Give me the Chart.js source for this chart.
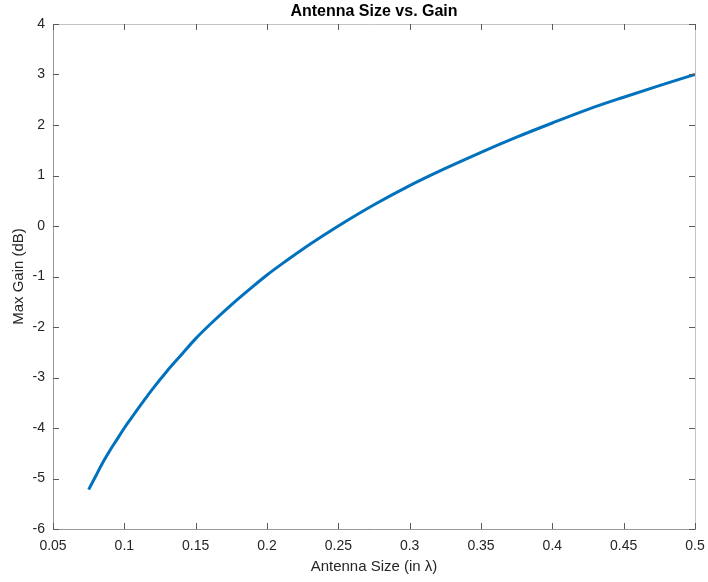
<!DOCTYPE html>
<html>
<head>
<meta charset="utf-8">
<script src="https://cdn.jsdelivr.net/npm/chart.js@4"></script>
<style>
  html, body { margin: 0; padding: 0; background: #fff; }
  #wrap { width: 708px; height: 582px; }
</style>
</head>
<body>
<div id="wrap"><canvas id="chart" width="708" height="582"></canvas></div>
<script>
// antenna size (in wavelengths) and max gain
let sizes = [0.075, 0.08, 0.085, 0.09, 0.095, 0.1, 0.105, 0.11, 0.115, 0.12, 0.13, 0.14, 0.15, 0.16,
             0.175, 0.19, 0.2, 0.21, 0.225, 0.24, 0.25, 0.275, 0.3, 0.325, 0.35, 0.375, 0.4, 0.425,
             0.45, 0.475, 0.5];
let gains = [-5.22, -4.95, -4.68, -4.44, -4.22, -4.0, -3.8, -3.6, -3.41, -3.22, -2.87, -2.55, -2.23, -1.95,
             -1.56, -1.2, -0.97, -0.76, -0.46, -0.18, 0.0, 0.42, 0.8, 1.14, 1.46, 1.76, 2.04, 2.31,
             2.55, 2.78, 3.0];

let xTicks = [0.05, 0.1, 0.15, 0.2, 0.25, 0.3, 0.35, 0.4, 0.45, 0.5];
let xTickLabels = ["0.05", "0.1", "0.15", "0.2", "0.25", "0.3", "0.35", "0.4", "0.45", "0.5"];
let yTicks = [-6, -5, -4, -3, -2, -1, 0, 1, 2, 3, 4];

let fontFam = "'Liberation Sans', Arial, Helvetica, sans-serif";

// matlab style box, inward ticks and title centred on the axes
let boxPlugin = {
  id: "box",
  afterDraw(chart) {
    let ctx = chart.ctx;
    let a = chart.chartArea;
    let xs = chart.scales.x, ys = chart.scales.y;
    ctx.save();
    ctx.lineWidth = 1;
    ctx.strokeStyle = "#c4c4c4";
    ctx.beginPath();
    ctx.moveTo(a.left, a.top + 0.5);
    ctx.lineTo(a.right + 0.5, a.top + 0.5);
    ctx.lineTo(a.right + 0.5, a.bottom);
    ctx.stroke();

    ctx.strokeStyle = "#5a5a5a";
    ctx.beginPath();
    xTicks.forEach(v => {
      let px = Math.round(xs.getPixelForValue(v)) + 0.5;
      ctx.moveTo(px, a.bottom); ctx.lineTo(px, a.bottom - 6);
      ctx.moveTo(px, a.top); ctx.lineTo(px, a.top + 6);
    });
    yTicks.forEach(v => {
      let py = Math.round(ys.getPixelForValue(v)) + 0.5;
      ctx.moveTo(a.left, py); ctx.lineTo(a.left + 6, py);
      ctx.moveTo(a.right, py); ctx.lineTo(a.right - 6, py);
    });
    ctx.stroke();

    ctx.fillStyle = "#000";
    ctx.font = "bold 16px " + fontFam;
    ctx.textAlign = "center";
    ctx.textBaseline = "middle";
    ctx.fillText("Antenna Size vs. Gain", (a.left + a.right) / 2, 12);
    ctx.restore();
  }
};

let ctx = document.getElementById("chart").getContext("2d");

let chart = new Chart(ctx, {
  type: "line",
  data: {
    datasets: [
      {
        label: "Max Gain",
        data: sizes.map((s, i) => ({ x: s, y: gains[i] })),
        borderColor: "#0072BD",
        borderWidth: 3,
        pointRadius: 0,
        fill: false,
        cubicInterpolationMode: "monotone"
      }
    ]
  },
  options: {
    responsive: false,
    animation: false,
    layout: { padding: { left: 0, right: 13, top: 24, bottom: 0 } },
    plugins: {
      legend: { display: false },
      tooltip: { enabled: false },
      title: { display: false }
    },
    scales: {
      x: {
        type: "linear",
        min: 0.05,
        max: 0.5,
        afterBuildTicks: s => { s.ticks = xTicks.map(v => ({ value: v })); },
        afterFit: s => { s.height = 53; s.paddingLeft = 0; s.paddingRight = 0; },
        border: { display: true, color: "#999", width: 1 },
        grid: { display: false, drawTicks: false },
        ticks: {
          color: "#262626",
          padding: 9,
          maxRotation: 0,
          font: { family: fontFam, size: 14 },
          callback: (v, i) => xTickLabels[i]
        },
        title: {
          display: true,
          text: "Antenna Size (in λ)",
          color: "#262626",
          font: { family: fontFam, size: 15 },
          padding: { top: 4, bottom: 6 }
        }
      },
      y: {
        type: "linear",
        min: -6,
        max: 4,
        afterBuildTicks: s => { s.ticks = yTicks.map(v => ({ value: v })); },
        afterFit: s => { s.width = 53; s.paddingTop = 0; s.paddingBottom = 0; },
        border: { display: true, color: "#999", width: 1 },
        grid: { display: false, drawTicks: false },
        ticks: {
          color: "#262626",
          padding: 8,
          font: { family: fontFam, size: 14 },
          callback: v => String(v)
        },
        title: {
          display: true,
          text: "Max Gain (dB)",
          color: "#262626",
          font: { family: fontFam, size: 15 },
          padding: { top: 10, bottom: 0 }
        }
      }
    }
  },
  plugins: [boxPlugin]
});
</script>
</body>
</html>
